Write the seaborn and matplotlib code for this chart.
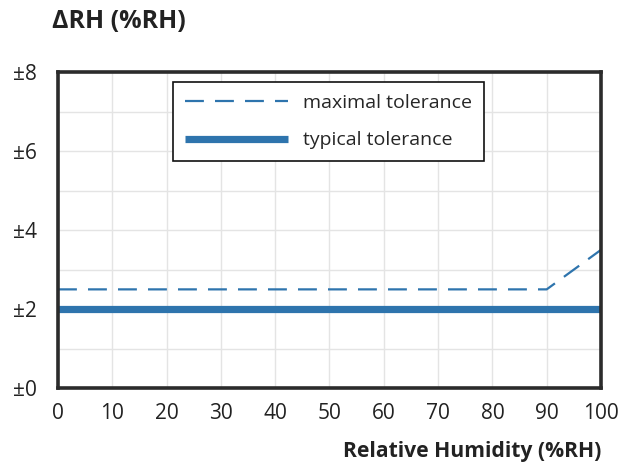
import matplotlib.pyplot as plt
import seaborn as sns
import pandas as pd
from matplotlib.ticker import MultipleLocator, FuncFormatter

# values
rh_max = [0, 90, 100]
tol_max = [2.5, 2.5, 3.5]
rh_typ = [0, 100]
tol_typ = [2.0, 2.0]

blue = '#2e74ad'

sns.set_style('white')
plt.rcParams['font.family'] = ['Open Sans', 'DejaVu Sans']

fig = plt.figure(figsize=(6.27, 4.66), dpi=100)
ax = fig.add_axes([0.0925, 0.167, 0.866, 0.6785])

sns.lineplot(x=rh_max, y=tol_max, ax=ax, color=blue, lw=1.6,
             label='maximal tolerance')
ax.lines[-1].set_dashes([8.5, 5])
sns.lineplot(x=rh_typ, y=tol_typ, ax=ax, color=blue, lw=5.2,
             label='typical tolerance')
ax.lines[-1].set_solid_capstyle('butt')

ax.set_xlim(0, 100)
ax.set_ylim(0, 8)
ax.xaxis.set_major_locator(MultipleLocator(10))
ax.yaxis.set_major_locator(MultipleLocator(2))
ax.yaxis.set_minor_locator(MultipleLocator(1))
ax.yaxis.set_major_formatter(FuncFormatter(lambda v, p: '±%d' % v))
ax.grid(True, which='both', color='#e4e4e4', lw=1)
ax.set_axisbelow(True)
ax.tick_params(which='major', length=5, width=1, color='#333333',
               labelsize=15, labelcolor='#222222')
ax.tick_params(which='minor', length=0)
ax.tick_params(axis='x', pad=6)
ax.tick_params(axis='y', pad=10)
for s in ax.spines.values():
    s.set_color('#2b2b2b')
    s.set_linewidth(2.6)

ax.set_xlabel('Relative Humidity (%RH)', fontsize=15.2, fontweight='bold',
              color='#222222', loc='right', labelpad=12)
ax.set_ylabel('')
fig.text(0.083, 0.953, 'ΔRH (%RH)', fontsize=18, fontweight='bold',
         color='#222222', ha='left', va='center')

leg = ax.legend(loc='upper left', bbox_to_anchor=(0.194, 0.998), fontsize=14,
                handlelength=5.3, handletextpad=0.8, borderpad=0.6,
                labelspacing=1.0, fancybox=False, framealpha=1)
leg.get_frame().set_edgecolor('#111111')
leg.get_frame().set_linewidth(1.2)

fig.savefig('out.png', dpi=100)
